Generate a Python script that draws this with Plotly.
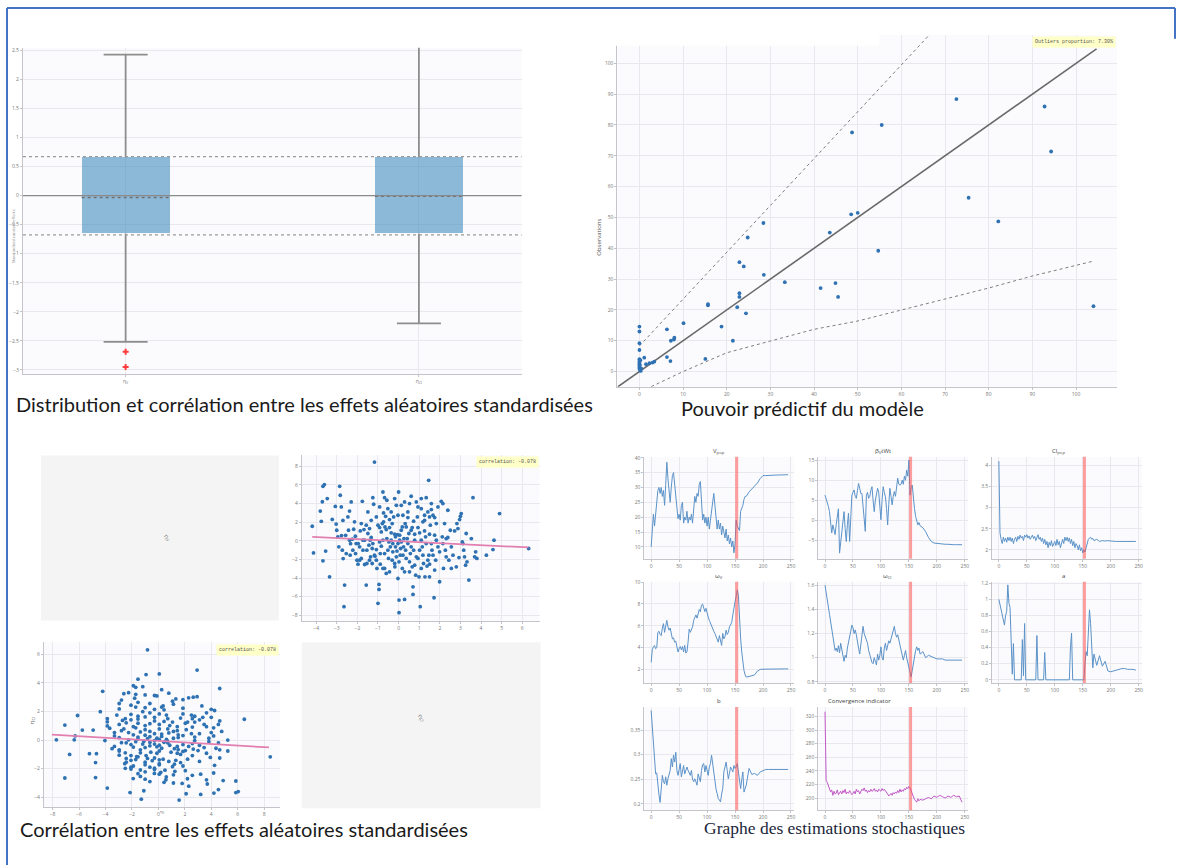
import plotly.graph_objects as go

W, H = 1181, 867

# ------------------------------------------------------------------ data
# Box plot of standardized random effects
box_labels = ["η<sub>V</sub>", "η<sub>Cl</sub>"]
box_pos = [0, 1]
box_q1 = [-0.65, -0.65]
box_median = [-0.03, -0.01]
box_q3 = [0.66, 0.66]
box_low = [-2.52, -2.20]
box_high = [2.43, 2.90]
outlier_x = [0, 0]
outlier_y = [-2.69, -2.95]
ref_quartiles = [-0.674, 0.674]
ref_center = 0.0

# Observations vs predictions
pred_x = [0, 0, 0, 0, 0, 0, 0, 0, 0, 0, 0, 0.3, 0.2, 0.1, 0.4, 0.2, 1.1, 1.5, 2.3, 3.0,
          3.4, 6.3, 6.3, 7.1, 7.2, 7.9, 8.0, 10.1, 15.1, 15.7, 15.7, 18.8, 21.4, 22.4, 22.9,
          22.9, 22.9, 23.9, 24.4, 24.8, 28.4, 28.5, 33.3, 41.5, 43.6, 44.9, 45.5, 48.5, 48.7,
          50.0, 54.7, 55.5, 72.6, 75.4, 82.2, 92.8, 94.3, 104.0]
obs_y = [14.6, 13.0, 9.2, 7.0, 4.0, 3.4, 2.9, 2.4, 1.8, 1.3, 0.8, 0.2, 3.7, 2.1, 1.0, 0.5, 4.5, 2.4, 2.7, 2.9,
         3.2, 13.7, 4.7, 3.4, 10.0, 10.4, 11.0, 15.7, 4.1, 21.5, 21.9, 14.6, 10.0, 20.9, 35.5,
         24.2, 25.4, 34.1, 18.9, 43.5, 48.2, 31.4, 29.0, 27.1, 45.1, 28.7, 24.2, 51.0, 77.6,
         51.5, 39.2, 80.0, 88.4, 56.4, 48.7, 86.0, 71.4, 21.2]
identity_ends = [-5.0, 104.7]
upper_pi_x = [0, 20, 40, 60, 75]
upper_pi_y = [8.3, 38.7, 69.1, 99.5, 122.3]
lower_pi_x = [2.7, 10, 20, 30, 40, 50, 60, 70, 80, 90, 103.6]
lower_pi_y = [-4.9, 0.0, 6.1, 9.9, 13.7, 16.4, 20.0, 23.6, 27.1, 31.0, 35.7]
outliers_text = "Outliers proportion: 7.30%"

# Correlation between standardized random effects
eta_cl = [-4.19, -4.13, -3.80, -3.75, -3.67, -3.60, -3.70, -3.67, -3.54, -3.46,
          -3.35, -3.22, -3.07, -3.03, -3.00, -2.95, -2.90, -2.86, -2.83, -2.78,
          -2.77, -2.70, -2.73, -2.69, -2.65, -2.62, -2.57, -2.54, -2.46, -2.43,
          -2.38, -2.33, -2.30, -2.35, -2.25, -2.18, -2.10, -2.09, -2.02, -1.97,
          -1.96, -1.89, -1.86, -1.81, -1.76, -1.73, -1.68, -1.65, -1.57, -1.54,
          -1.49, -1.41, -1.38, -1.33, -1.28, -1.25, -1.21, -1.17, -1.15, -1.08,
          -1.05, -1.00, -0.95, -0.95, -0.92, -0.89, -0.84, -0.79, -0.76, -0.73,
          -0.68, -0.66, -0.60, -0.57, -0.52, -0.49, -0.44, -0.40, -0.36, -0.31,
          -0.28, -0.24, -0.19, -0.18, -0.15, -0.11, -0.08, -0.03, 0.00, 0.02,
          0.02, 0.05, 0.08, 0.13, 0.18, 0.21, 0.24, 0.29, 0.29, 0.32,
          0.37, 0.42, 0.45, 0.53, 0.57, 0.61, 0.66, 0.70, 0.70, 0.73,
          0.78, 0.83, 0.86, 0.91, 0.94, 0.99, 1.02, 1.05, 1.10, 1.15,
          1.18, 1.21, 1.26, 1.28, 1.31, 1.34, 1.38, 1.42, 1.46, 1.47,
          1.50, 1.54, 1.59, 1.62, 1.67, 1.72, 1.75, 1.80, 1.83, 1.91,
          1.99, 2.07, 2.12, 2.15, 2.18, 2.23, 2.27, 2.31, 2.39, 2.44,
          2.51, 2.56, 2.64, 2.72, 2.80, 2.83, 2.88, 2.93, 2.96, 3.00,
          3.04, 3.09, 3.12, 3.16, 3.20, 3.25, 3.28, 3.32, 3.41, 3.53,
          3.61, 3.69, 3.74, 3.80, 4.26, 4.58, 4.63, 4.90, 6.31,
          -1.49, -1.41, -1.33, -1.25, -1.17, -1.08, -1.00, -0.92, -0.84, -0.76,
          -0.73, -0.68, -0.63, -0.60, -0.52, -0.47, -0.44, -0.36, -0.31, -0.28,
          -0.19, -0.15, -0.11, -0.06, -0.03, 0.02, 0.05, 0.10, 0.13, 0.18,
          0.21, 0.26, 0.34, 0.37, 0.45, 0.50, 0.53, 0.61, 0.66, 0.73,
          0.78, 0.86, 0.94, 1.02, 1.10, 1.18, 1.26, 1.34, 1.42, 1.50,
          1.59, 1.67, 1.75, 1.83, 1.99, 2.15, 2.31, 2.39, 2.56, -2.38,
          -2.22, -2.14, -2.06, -1.89, -1.81, -1.73, -1.65, -1.57, -1.54, -1.44,
          -1.36, -1.28, -1.08, -0.89, -0.68, -0.44, -0.19, 0.29, 0.53, 0.78,
          1.10, 1.50, 1.75, -0.92, -0.36, -0.03, 0.45, 0.94, 1.26, 1.50,
          1.91, -0.57, 0.13, 0.61, 1.10, 1.59, -0.76]
eta_v = [1.57, -1.29, 3.20, 2.10, 5.86, 6.04, 4.20, -2.14, -1.10, 4.54,
         -3.86, 2.30, 3.70, 1.80, 1.14, 0.43, -0.64, 5.86, 4.90, 3.64,
         0.57, 2.20, -1.00, -1.90, -7.07, -4.75, 0.60, -1.36, 2.57, 1.14,
         3.20, -0.30, 4.18, -1.54, 0.18, 1.25, 0.50, -1.36, -2.07, -2.50,
         -0.29, -0.64, 1.07, -1.89, 4.25, 0.07, 1.21, -2.54, -4.75, -1.00,
         0.79, -2.07, 0.07, 2.21, -0.82, 4.64, 3.93, 8.46, -1.64, 2.57,
         -2.96, -6.71, -4.68, -5.21, -0.11, -1.36, 0.96, 1.86, -2.96, 3.00,
         4.64, 1.50, -3.50, 0.25, 3.46, -1.89, 2.29, -0.64, 0.86, -2.07,
         -0.29, 2.57, 4.54, -2.79, 0.43, 3.82, -1.10, -4.04, 5.25, -6.36,
         -7.71, 0.07, -1.54, 1.14, -2.96, 2.75, -0.64, 4.18, -6.29, 1.86,
         -1.89, 0.25, 2.50, 4.00, -1.36, 1.14, -2.79, -4.93, -5.75, 2.11,
         0.07, -3.68, 4.18, 2.57, -1.89, -3.86, 0.86, -7.07, 3.46, -0.64,
         2.04, -2.43, 2.75, -3.86, 0.43, 4.64, -2.71, 3.11, 6.50, -1.54,
         -3.86, 1.68, 3.36, -1.00, 2.75, -6.11, 0.61, -2.07, 1.86, -0.64,
         -4.39, 4.25, 0.43, 4.00, -2.96, 1.86, -1.00, 0.25, 3.29, -2.07,
         1.14, -2.96, -1.54, 1.07, -2.79, 1.86, 1.32, -1.79, 2.29, 2.64,
         2.93, -0.11, -0.29, -1.00, -1.71, -2.61, 0.79, -2.25, -4.21, 0.25,
         4.64, -1.71, -1.18, -1.89, -1.54, -0.93, 0.07, 2.93, -0.82,
         3.11, 1.32, 0.36, -0.29, -1.54, -0.93, 1.68, 1.43, -0.57, 0.07,
         2.04, -1.36, 2.64, 1.21, -1.00, -0.11, 1.43, 0.07, 1.86, -1.18,
         0.71, -0.64, -1.71, 0.68, -0.29, -2.25, 0.61, -0.82, -0.11, 1.50,
         -1.54, 0.25, -1.00, 1.50, -0.29, 0.79, -2.25, -0.64, 1.43, -1.00,
         0.71, -1.71, 1.43, -1.00, 0.07, -1.54, 1.07, -0.29, -2.07, 0.71,
         -0.29, -1.54, 2.50, 0.07, -1.18, -0.29, -1.71, 0.36, -0.64, 0.07,
         -1.00, 2.04, -0.29, -2.07, 1.86, -1.00, 0.07, 1.68, -2.43, -0.46,
         -1.71, -2.43, -2.07, -2.50, -2.96, -3.32, -2.43, -3.32, -3.32, -2.61,
         -2.96, -2.50, -3.14, 3.64, 3.11, 2.75, 3.11, 3.64, 2.21, 2.57,
         3.64, 4.36, 3.82, 4.79, 4.54, 4.00, 5.25]
fit_tr_cl = [-4.19, 6.31]
fit_tr_v = [0.43, -0.71]
fit_bl_v = [-8.05, 8.36]
fit_bl_cl = [0.38, -0.51]
corr_text = "correlation: -0.078"

# Stochastic estimation traces (SAEM iterations)
iterations = list(range(0, 171, 2)) + list(range(175, 246, 5))
switch_iter = 153
v_pop = [10, 15, 21, 17, 22, 26, 29, 30, 28, 30,
         27, 29, 24, 31, 38.5, 33, 27, 25, 30, 34,
         35, 31, 27, 22, 19.5, 21, 19, 24, 25, 18,
         20, 19, 22, 18, 20, 19, 21, 18, 22, 27,
         25, 28, 27, 31, 32, 24, 19, 21, 18, 20,
         17, 20, 16, 19, 22, 25, 28, 24, 18, 16,
         19, 16, 18, 14, 17, 15, 13, 16, 12, 14,
         11, 13, 10, 12, 8, 11, 19, 17, 16, 15.5,
         22, 23, 24, 26, 27, 27,
         28.5, 29.5, 30.5, 31.5, 33, 34, 34, 34.1, 34.1, 34.2, 34.2, 34.2, 34.3, 34.3, 34.3]
beta_v = [6.3, 5.5, 4.3, 3.5, 2.2, -1, -3.1, -1.1, -2.5, -3.5,
          -1, 1.5, 2.9, -8.1, -5, -2, 1, 2.2, -2, -5.2,
          -1, 1.8, -5.2, 2, 6.3, 7, 7.6, 6, 5.5, 7.5,
          9.2, 8, 6.7, 6.7, 4, 0, -2.7, 6.3, 7, 5.5,
          6, 7.5, 8.4, 5, 2.2, 5, 6.3, 8, 7, 3,
          0.2, 5, 8.4, 7, 5.9, 3, -1.1, 4, 8, 6,
          3.9, 6, 7.2, 6, 9, 10.5, 9, 8.8, 9, 10,
          9, 11, 10, 12.5, 11, 15, 6.3, 8.4, 8.8, 5,
          3, 1, 0, -1.1, -0.5, -1.3,
          -1.8, -2.8, -4.2, -5.2, -5.6, -5.7, -5.8, -5.8, -5.9, -5.9, -6.0, -6.0, -6.0, -6.0, -6.0]
cl_pop = [4.1, 2.4, 2.25, 2.15, 2.3, 2.2, 2.28, 2.18, 2.3, 2.22,
          2.3, 2.2, 2.28, 2.15, 2.25, 2.3, 2.2, 2.32, 2.25, 2.35,
          2.28, 2.32, 2.22, 2.35, 2.3, 2.36, 2.28, 2.33, 2.25, 2.3,
          2.35, 2.27, 2.32, 2.22, 2.3, 2.36, 2.25, 2.3, 2.2, 2.28,
          2.15, 2.25, 2.12, 2.2, 2.05, 2.18, 2.1, 2.22, 2.08, 2.15,
          2.2, 2.1, 2.25, 2.12, 2.2, 2.05, 2.18, 2.25, 2.15, 2.3,
          2.22, 2.3, 2.2, 2.28, 2.15, 2.25, 2.1, 2.2, 2.05, 2.15,
          2.1, 2.0, 2.12, 1.98, 2.05, 1.93, 2.0, 1.95, 2.05, 2.15,
          2.25, 2.28, 2.3, 2.25, 2.27, 2.22,
          2.25, 2.2, 2.22, 2.21, 2.22, 2.21, 2.2, 2.2, 2.2, 2.2, 2.2, 2.2, 2.2, 2.2, 2.2]
omega_v = [2.65, 3.8, 4.1, 4.2, 3.9, 4.0, 5.4, 5.5, 5.2, 5.1,
           5.8, 6.2, 5.4, 6.2, 6.5, 5.9, 5.6, 5.8, 5.2, 4.8,
           4.9, 4.5, 4.6, 4.1, 3.6, 3.9, 4.1, 3.8, 4.1, 3.6,
           4.2, 3.5, 3.6, 4.5, 5.7, 5.4, 5.6, 5.9, 6.5, 6.8,
           7.0, 6.7, 7.2, 7.5, 7.3, 7.9, 8.0, 7.6, 7.3, 7.6,
           7.0, 6.8, 6.5, 6.2, 6.0, 5.7, 5.5, 5.3, 5.0, 4.7,
           4.5, 5.1, 4.6, 4.2, 5.3, 4.8, 5.0, 5.6, 5.2, 5.4,
           5.9, 6.1, 6.3, 7.0, 7.8, 8.2, 8.7, 9.3, 8.8, 6.5,
           4.8, 3.6, 2.6, 1.9, 1.5, 1.3,
           1.35, 1.4, 1.5, 1.85, 2.0, 2.02, 2.03, 2.05, 2.05, 2.05, 2.05, 2.05, 2.05, 2.05, 2.05]
omega_cl = [1.6, 1.55, 1.5, 1.42, 1.36, 1.3, 1.23, 1.15, 1.1, 1.06,
            1.08, 1.05, 1.1, 1.04, 1.12, 1.06, 1.0, 0.97, 1.02, 1.0,
            1.08, 1.12, 1.17, 1.22, 1.27, 1.25, 1.2, 1.23, 1.19, 1.12,
            1.08, 1.03, 1.1, 1.17, 1.26, 1.2, 1.17, 1.13, 1.12, 1.06,
            1.02, 0.98, 0.96, 0.95, 1.0, 0.97, 0.94, 1.03, 0.98, 1.02,
            1.09, 1.0, 0.98, 1.08, 1.12, 1.06, 1.1, 1.14, 1.12, 1.16,
            1.2, 1.24, 1.26, 1.2, 1.17, 1.19, 1.15, 1.12, 1.06, 1.03,
            0.98, 1.02, 1.06, 1.0, 0.95, 0.92, 0.88, 0.84, 0.9, 0.96,
            1.0, 1.06, 1.09, 1.06, 1.08, 1.03,
            1.05, 1.0, 1.02, 1.01, 1.0, 0.99, 0.99, 0.99, 0.98, 0.98, 0.98, 0.98, 0.98, 0.98, 0.98]
a_err = [1.0, 0.93, 0.88, 0.8, 0.72, 0.68, 0.8, 0.85, 1.18, 0.95,
         0.9, 0.55, 0.07, 0.45, 0.0, 0.0, 0.0, 0.0, 0.0, 0.0,
         0.0, 0.5, 0.05, 0.7, 0.0, 0.0, 0.0, 0.0, 0.0, 0.0,
         0.0, 0.0, 0.0, 0.0, 0.55, 0.0, 0.0, 0.0, 0.0, 0.0,
         0.0, 0.34, 0.0, 0.0, 0.0, 0.0, 0.0, 0.0, 0.0, 0.0,
         0.0, 0.0, 0.0, 0.0, 0.0, 0.0, 0.0, 0.0, 0.0, 0.0,
         0.0, 0.0, 0.0, 0.0, 0.4, 0.58, 0.0, 0.0, 0.0, 0.0,
         0.0, 0.0, 0.0, 0.0, 0.0, 0.0, 0.0, 0.2, 0.35, 0.3,
         0.6, 0.87, 0.7, 0.3, 0.15, 0.32,
         0.18, 0.3, 0.17, 0.23, 0.11, 0.1, 0.11, 0.12, 0.13, 0.14, 0.14, 0.13, 0.13, 0.13, 0.12]
b_err = [0.39, 0.36, 0.33, 0.3, 0.261, 0.263, 0.231, 0.218, 0.203, 0.224,
         0.258, 0.245, 0.241, 0.255, 0.238, 0.251, 0.262, 0.268, 0.292, 0.275,
         0.299, 0.285, 0.305, 0.268, 0.258, 0.27, 0.282, 0.255, 0.27, 0.278,
         0.261, 0.27, 0.275, 0.268, 0.262, 0.258, 0.268, 0.25, 0.245, 0.251,
         0.245, 0.238, 0.261, 0.25, 0.245, 0.268, 0.28, 0.282, 0.265, 0.278,
         0.27, 0.258, 0.275, 0.282, 0.299, 0.28, 0.268, 0.245, 0.23, 0.221,
         0.211, 0.208, 0.204, 0.22, 0.231, 0.265, 0.28, 0.285, 0.268, 0.251,
         0.262, 0.275, 0.27, 0.265, 0.278, 0.272, 0.275, 0.282, 0.265, 0.25,
         0.231, 0.25, 0.265, 0.224, 0.232, 0.238,
         0.272, 0.26, 0.262, 0.258, 0.265, 0.268, 0.27, 0.27, 0.27, 0.27, 0.27, 0.27, 0.27, 0.27, 0.27]
conv_ind = [327, 226, 223, 218, 211, 209, 212, 204, 210, 206,
            207, 212, 205, 208, 210, 206, 211, 208, 213, 206,
            209, 207, 211, 208, 205, 207, 210, 206, 213, 209,
            211, 206, 209, 213, 211, 215, 210, 212, 208, 211,
            209, 213, 210, 211, 214, 210, 212, 209, 213, 212,
            210, 214, 211, 213, 211, 209, 206, 203, 205, 207,
            204, 208, 206, 209, 207, 211, 208, 213, 209, 212,
            210, 214, 212, 216, 214, 217, 215, 211, 205, 201,
            198, 196, 194, 199, 196, 198,
            197, 199, 201, 199, 203, 201, 204, 202, 200, 203, 201, 204, 202, 203, 194]

captions = ["Distribution et corrélation entre les effets aléatoires standardisées",
            "Pouvoir prédictif du modèle",
            "Corrélation entre les effets aléatoires standardisées",
            "Graphe des estimations stochastiques"]

# ------------------------------------------------------------------ helpers
def px_x(p):
    return p / W


def px_y(p):
    return 1 - p / H


def xdom(l, r):
    return [l / W, r / W]


def ydom(t, b):
    return [1 - b / H, 1 - t / H]


GRID = "#e8e8ee"
LINE = "#c4c4ca"
BG = "#fbfbfd"
TICKF = dict(family="Open Sans", size=5, color="#777777")
BLUE = "#2f72b3"
TRACE = "#5b92c8"
MAG = "#c159c6"


def axis(domain, rng, anchor, dtick=None, tickvals=None, ticktext=None, **kw):
    d = dict(domain=domain, range=rng, anchor=anchor, showgrid=True, gridcolor=GRID,
             gridwidth=1, zeroline=False, showline=True, linecolor=LINE, linewidth=1,
             ticks="outside", ticklen=2, tickcolor=LINE, tickfont=TICKF, fixedrange=True)
    if dtick is not None:
        d.update(dtick=dtick, tick0=0)
    if tickvals is not None:
        d.update(tickmode="array", tickvals=tickvals, ticktext=ticktext)
    d.update(kw)
    return d


fig = go.Figure()
axes = {}
shapes = []
annotations = []

# ------------------------------------------------------------------ 1. box plot
axes["xaxis"] = axis(xdom(23, 522), [-0.35, 1.35], "y", tickvals=box_pos, ticktext=box_labels)
axes["yaxis"] = axis(ydom(45, 373), [-3.07, 2.55], "x", dtick=0.5)

fig.add_trace(go.Bar(x=box_pos, y=[h - l for h, l in zip(box_q3, box_q1)], base=box_q1,
                     width=0.3, marker=dict(color="rgba(31,119,180,0.5)", line=dict(width=0)),
                     xaxis="x", yaxis="y", hoverinfo="skip"))
wx, wy, mx, my = [], [], [], []
cap = 0.075
for p, q1, q3, lo, hi, med in zip(box_pos, box_q1, box_q3, box_low, box_high, box_median):
    wx += [p, p, None, p, p, None, p - cap, p + cap, None, p - cap, p + cap, None]
    wy += [q3, hi, None, q1, lo, None, hi, hi, None, lo, lo, None]
    mx += [p - 0.15, p + 0.15, None]
    my += [med, med, None]
fig.add_trace(go.Scatter(x=wx, y=wy, mode="lines", line=dict(color="#8d8d8d", width=1.8),
                         xaxis="x", yaxis="y", hoverinfo="skip"))
fig.add_trace(go.Scatter(x=mx, y=my, mode="lines", line=dict(color="#6f6f6f", width=1.5, dash="dot"),
                         xaxis="x", yaxis="y", hoverinfo="skip"))
fig.add_trace(go.Scatter(x=outlier_x, y=outlier_y, mode="markers",
                         marker=dict(symbol="cross", size=5, color="#ff3b3b"),
                         xaxis="x", yaxis="y", hoverinfo="skip"))
for lvl in ref_quartiles:
    shapes.append(dict(type="line", xref="x domain", yref="y", x0=0, x1=1, y0=lvl, y1=lvl,
                       line=dict(color="#9a9a9a", width=1.2, dash="dot")))
shapes.append(dict(type="line", xref="x domain", yref="y", x0=0, x1=1, y0=ref_center, y1=ref_center,
                   line=dict(color="#8a8a8a", width=1.2)))
annotations.append(dict(text="Standardized random effects", x=px_x(9), y=px_y(205), xref="paper",
                        yref="paper", showarrow=False, textangle=-90,
                        font=dict(size=4, color="#888", family="Open Sans")))

# ------------------------------------------------------------------ 2. observations vs predictions
axes["xaxis2"] = axis(xdom(618, 1118), [-5.03, 109.4], "y2", dtick=10)
axes["yaxis2"] = axis(ydom(32, 386), [-4.94, 109.26], "x2", dtick=10)
fig.add_trace(go.Scatter(x=upper_pi_x, y=upper_pi_y, mode="lines",
                         line=dict(color="#7d7d7d", width=1, dash="dot"), xaxis="x2", yaxis="y2",
                         hoverinfo="skip"))
fig.add_trace(go.Scatter(x=lower_pi_x, y=lower_pi_y, mode="lines",
                         line=dict(color="#7d7d7d", width=1, dash="dot"), xaxis="x2", yaxis="y2",
                         hoverinfo="skip"))
fig.add_trace(go.Scatter(x=identity_ends, y=identity_ends, mode="lines",
                         line=dict(color="#6a6a6a", width=1.6), xaxis="x2", yaxis="y2",
                         hoverinfo="skip"))
fig.add_trace(go.Scatter(x=pred_x, y=obs_y, mode="markers",
                         marker=dict(size=3.8, color=BLUE), xaxis="x2", yaxis="y2", hoverinfo="skip"))
annotations.append(dict(text="Observations", x=px_x(600), y=px_y(215), xref="paper", yref="paper",
                        showarrow=False, textangle=-90,
                        font=dict(size=6, color="#555", family="Open Sans")))
annotations.append(dict(text=outliers_text, x=px_x(1117), y=px_y(39), xref="paper", yref="paper",
                        xanchor="right", yanchor="middle", showarrow=False, bgcolor="#ffffc8",
                        borderpad=2, font=dict(size=5, color="#555", family="Liberation Mono")))
# paper cover that hides the upper-left strip of the predictive plot
shapes.append(dict(type="rect", xref="paper", yref="paper", x0=px_x(560), x1=px_x(880),
                   y0=px_y(43), y1=px_y(20), fillcolor="white", line=dict(width=0), layer="above"))

# ------------------------------------------------------------------ 3. correlation matrix
for (l, r, t, b, lab) in [(41, 279, 455, 621, "η<sub>V</sub>"), (302, 541, 643, 810, "η<sub>Cl</sub>")]:
    shapes.append(dict(type="rect", xref="paper", yref="paper", x0=px_x(l), x1=px_x(r),
                       y0=px_y(b), y1=px_y(t), fillcolor="#f4f4f4", line=dict(width=0), layer="below"))
    annotations.append(dict(text=lab, x=px_x((l + r) / 2), y=px_y((t + b) / 2), xref="paper",
                            yref="paper", showarrow=False, textangle=45,
                            font=dict(size=6, color="#777", family="Open Sans")))

axes["xaxis3"] = axis(xdom(302, 540), [-4.7, 6.84], "y3", dtick=1)
axes["yaxis3"] = axis(ydom(455, 622), [-8.65, 9.18], "x3", dtick=2)
fig.add_trace(go.Scatter(x=eta_cl, y=eta_v, mode="markers", marker=dict(size=3.8, color=BLUE),
                         xaxis="x3", yaxis="y3", hoverinfo="skip"))
fig.add_trace(go.Scatter(x=fit_tr_cl, y=fit_tr_v, mode="lines",
                         line=dict(color="#e27fb0", width=1.8), xaxis="x3", yaxis="y3",
                         hoverinfo="skip"))
annotations.append(dict(text=corr_text, x=px_x(539), y=px_y(462), xref="paper", yref="paper",
                        xanchor="right", yanchor="middle", showarrow=False, bgcolor="#ffffc8",
                        borderpad=2, font=dict(size=5, color="#555", family="Liberation Mono")))

axes["xaxis4"] = axis(xdom(44, 280), [-8.65, 9.18], "y4", dtick=2)
axes["yaxis4"] = axis(ydom(643, 809), [-4.7, 6.84], "x4", dtick=2)
fig.add_trace(go.Scatter(x=eta_v, y=eta_cl, mode="markers", marker=dict(size=3.8, color=BLUE),
                         xaxis="x4", yaxis="y4", hoverinfo="skip"))
fig.add_trace(go.Scatter(x=fit_bl_v, y=fit_bl_cl, mode="lines",
                         line=dict(color="#e27fb0", width=1.8), xaxis="x4", yaxis="y4",
                         hoverinfo="skip"))
annotations.append(dict(text=corr_text, x=px_x(279), y=px_y(651), xref="paper", yref="paper",
                        xanchor="right", yanchor="middle", showarrow=False, bgcolor="#ffffc8",
                        borderpad=2, font=dict(size=5, color="#555", family="Liberation Mono")))
annotations.append(dict(text="η<sub>Cl</sub>", x=px_x(26), y=px_y(727), xref="paper", yref="paper",
                        showarrow=False, textangle=-90, font=dict(size=6, color="#666")))
annotations.append(dict(text="η<sub>V</sub>", x=px_x(158), y=px_y(819), xref="paper", yref="paper",
                        showarrow=False, font=dict(size=4, color="#666")))

# ------------------------------------------------------------------ 4. SAEM traces
col_l = [645, 819, 993]
col_r = [795, 969, 1143]
row_t = [456.5, 582, 708]
row_b = [559, 684, 812]
panels = [
    ("V<sub>pop</sub>", v_pop, [6, 40.3], 5, 0, 0, TRACE),
    ("β<sub>V</sub>tWt", beta_v, [-9.5, 15.8], 5, 0, 1, TRACE),
    ("Cl<sub>pop</sub>", cl_pop, [1.79, 4.2], 0.5, 0, 2, TRACE),
    ("ω<sub>V</sub>", omega_v, [0.75, 10.05], 2, 1, 0, TRACE),
    ("ω<sub>Cl</sub>", omega_cl, [0.79, 1.63], 0.2, 1, 1, TRACE),
    ("a", a_err, [-0.04, 1.22], 0.2, 1, 2, TRACE),
    ("b", b_err, [0.187, 0.397], 0.05, 2, 0, TRACE),
    ("Convergence indicator", conv_ind, [182, 334], 20, 2, 1, MAG),
]
for k, (title, vals, yr, dt, r, c, colr) in enumerate(panels):
    n = 5 + k
    axes[f"xaxis{n}"] = axis(xdom(col_l[c], col_r[c]), [-12, 256], f"y{n}", dtick=50)
    axes[f"yaxis{n}"] = axis(ydom(row_t[r], row_b[r]), yr, f"x{n}", dtick=dt)
    fig.add_trace(go.Scatter(x=iterations, y=vals, mode="lines", line=dict(color=colr, width=1),
                             xaxis=f"x{n}", yaxis=f"y{n}", hoverinfo="skip"))
    shapes.append(dict(type="line", xref=f"x{n}", yref=f"y{n} domain", x0=switch_iter,
                       x1=switch_iter, y0=0, y1=1,
                       line=dict(color="rgba(255,80,80,0.55)", width=3)))
    annotations.append(dict(text=title, x=px_x((col_l[c] + col_r[c]) / 2), y=px_y(row_t[r] - 6),
                            xref="paper", yref="paper", showarrow=False, yanchor="middle",
                            font=dict(size=6, color="#444", family="Open Sans")))

# ------------------------------------------------------------------ captions & frame
cap_font = dict(family="Lato", size=20, color="#1a1a1a")
for text, xl, yc, font in [
    (captions[0], 14, 403, cap_font),
    (captions[1], 680, 407, cap_font),
    (captions[2], 18, 831, cap_font),
    (captions[3], 703, 830, dict(family="Liberation Serif", size=17.5, color="#1b1f3a")),
]:
    annotations.append(dict(text=text, x=px_x(xl), y=px_y(yc), xref="paper", yref="paper",
                            xanchor="left", yanchor="middle", showarrow=False, font=font))

frame = dict(color="#4472c4", width=2)
shapes.append(dict(type="line", xref="paper", yref="paper", x0=px_x(7), x1=px_x(7),
                   y0=0, y1=px_y(5), line=frame))
shapes.append(dict(type="line", xref="paper", yref="paper", x0=px_x(7), x1=px_x(1176),
                   y0=px_y(5), y1=px_y(5), line=frame))
shapes.append(dict(type="line", xref="paper", yref="paper", x0=px_x(1176), x1=px_x(1176),
                   y0=px_y(36), y1=px_y(5), line=frame))

fig.update_layout(width=W, height=H, margin=dict(l=0, r=0, t=0, b=0), paper_bgcolor="white",
                  plot_bgcolor=BG, showlegend=False, shapes=shapes, annotations=annotations,
                  bargap=0, **axes)
fig.write_html("out.html", config={"displayModeBar": False, "staticPlot": True},
               post_script="document.body.style.margin='0px';document.body.style.padding='0px';"
                           "document.documentElement.style.overflow='hidden';")
